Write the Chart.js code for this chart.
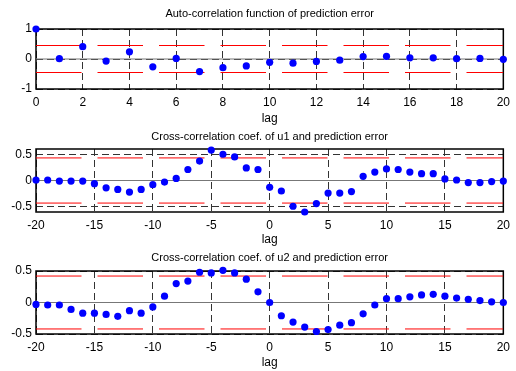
<!DOCTYPE html>
<html>
<head>
<meta charset="utf-8">
<script src="https://cdn.jsdelivr.net/npm/chart.js@4.4.1/dist/chart.umd.min.js"></script>
<style>
html, body { margin: 0; padding: 0; background: #fff; overflow: hidden; width: 516px; height: 371px; }
canvas { position: absolute; left: 0; }
</style>
</head>
<body>
<canvas id="acf" width="516" height="130" style="top:0px"></canvas>
<canvas id="ccf1" width="516" height="130" style="top:121px"></canvas>
<canvas id="ccf2" width="516" height="130" style="top:244px"></canvas>
<script>
// lags
const acfLags = [0, 1, 2, 3, 4, 5, 6, 7, 8, 9, 10, 11, 12, 13, 14, 15, 16, 17, 18, 19, 20];
const ccfLags = [-20, -19, -18, -17, -16, -15, -14, -13, -12, -11, -10, -9, -8, -7, -6, -5, -4, -3, -2, -1,
    0, 1, 2, 3, 4, 5, 6, 7, 8, 9, 10, 11, 12, 13, 14, 15, 16, 17, 18, 19, 20];

// values
const acfValues = [1.0, 0.01, 0.41, -0.07, 0.24, -0.26, 0.02, -0.42, -0.29, -0.23, -0.11,
    -0.14, -0.08, -0.04, 0.08, 0.09, 0.04, 0.04, 0.01, 0.02, -0.01];
const u1Values = [0.01, 0.01, -0.01, -0.01, -0.01, -0.06, -0.14, -0.17, -0.22, -0.17, -0.08,
    -0.03, 0.04, 0.21, 0.37, 0.58, 0.5, 0.45, 0.24, 0.21,
    -0.13, -0.2, -0.49, -0.6, -0.44, -0.24, -0.24, -0.21, 0.08, 0.16, 0.22,
    0.21, 0.16, 0.13, 0.13, 0.03, 0.01, -0.04, -0.04, -0.02, -0.01];
const u2Values = [-0.03, -0.04, -0.04, -0.11, -0.17, -0.17, -0.19, -0.22, -0.13, -0.17, -0.07,
    0.1, 0.3, 0.34, 0.48, 0.47, 0.51, 0.47, 0.37, 0.17,
    0, -0.21, -0.31, -0.39, -0.46, -0.43, -0.36, -0.32, -0.18, -0.04, 0.06,
    0.06, 0.09, 0.12, 0.13, 0.1, 0.07, 0.05, 0.03, 0.01, 0];

// confidence bounds (red lines)
const acfBound = 0.45;
const u1Bound = 0.43;
const u2Bound = 0.42;

// ticks
const acfXTicks = [0, 2, 4, 6, 8, 10, 12, 14, 16, 18, 20];
const ccfXTicks = [-20, -15, -10, -5, 0, 5, 10, 15, 20];
const acfYTicks = [-1, 0, 1];
const u1YTicks = [-0.5, 0, 0.5];
const u2YTicks = [-0.5, 0, 0.5];

Chart.defaults.font.family = "'Liberation Sans', Arial, sans-serif";
Chart.defaults.font.size = 12;
Chart.defaults.color = "#000";

const framePlugin = {
    id: "frame",
    beforeDatasetsDraw(chart, args, opts) {
        const a = chart.chartArea;
        const ctx = chart.ctx;
        ctx.save();
        ctx.strokeStyle = "#000";
        ctx.lineWidth = 1.5;
        ctx.strokeRect(a.left, a.top, a.right - a.left, a.bottom - a.top);
        ctx.fillStyle = "#000";
        ctx.font = "11px 'Liberation Sans', Arial, sans-serif";
        ctx.textAlign = "center";
        ctx.textBaseline = "middle";
        ctx.fillText(opts.text, (a.left + a.right) / 2, a.top - opts.gap);
        ctx.restore();
    },
};

function makeChart(id, lags, values, bound, xTicks, yTicks, yMin, yMax, title, titleGap, topPad, boxH) {
    const x0 = lags[0];
    const x1 = lags[lags.length - 1];
    const points = lags.map((l, i) => ({ x: l, y: values[i] }));
    const redDash = [45.5, 16];
    new Chart(document.getElementById(id), {
        type: "scatter",
        data: {
            datasets: [
                {
                    data: points,
                    backgroundColor: "#0000ff",
                    borderColor: "#0000ff",
                    pointRadius: 3.6,
                    pointBorderWidth: 0,
                    clip: false,
                },
                {
                    data: [{ x: x0, y: bound }, { x: x1, y: bound }],
                    showLine: true, pointRadius: 0,
                    borderColor: "#ff0000", borderWidth: 1, borderDash: redDash,
                },
                {
                    data: [{ x: x0, y: -bound }, { x: x1, y: -bound }],
                    showLine: true, pointRadius: 0,
                    borderColor: "#ff0000", borderWidth: 1, borderDash: redDash,
                },
                {
                    data: [{ x: x0, y: 0 }, { x: x1, y: 0 }],
                    showLine: true, pointRadius: 0,
                    borderColor: "#777", borderWidth: 1,
                },
            ],
        },
        options: {
            responsive: false,
            animation: false,
            events: [],
            layout: { padding: { top: topPad, right: 8, left: 0, bottom: 0 } },
            plugins: {
                legend: { display: false },
                tooltip: { enabled: false },
                frame: { text: title, gap: titleGap },
            },
            scales: {
                x: {
                    type: "linear",
                    min: x0,
                    max: x1,
                    afterBuildTicks: (s) => { s.ticks = xTicks.map((v) => ({ value: v })); },
                    afterFit: (s) => { s.height = 130 - topPad - boxH; },
                    grid: { color: "#333", lineWidth: 1, drawTicks: false },
                    border: { display: false, dash: [7, 4] },
                    ticks: { padding: 6, maxRotation: 0, callback: (v) => String(v) },
                    title: { display: true, text: "lag", padding: { top: 0, bottom: 4 }, font: { size: 12 } },
                },
                y: {
                    min: yMin,
                    max: yMax,
                    afterBuildTicks: (s) => { s.ticks = yTicks.map((v) => ({ value: v })); },
                    afterFit: (s) => { s.width = 36; },
                    grid: { color: "#333", lineWidth: 1, drawTicks: false },
                    border: { display: false, dash: [7, 4] },
                    ticks: { padding: 4, callback: (v) => String(v) },
                },
            },
        },
        plugins: [framePlugin],
    });
}

makeChart("acf", acfLags, acfValues, acfBound, acfXTicks, acfYTicks, -1, 1,
    "Auto-correlation function of prediction error", 15, 29, 60);
makeChart("ccf1", ccfLags, u1Values, u1Bound, ccfXTicks, u1YTicks, -0.6, 0.6,
    "Cross-correlation coef. of u1 and prediction error", 12.5, 28, 63);
makeChart("ccf2", ccfLags, u2Values, u2Bound, ccfXTicks, u2YTicks, -0.5, 0.5,
    "Cross-correlation coef. of u2 and prediction error", 13, 27, 63);
</script>
</body>
</html>
